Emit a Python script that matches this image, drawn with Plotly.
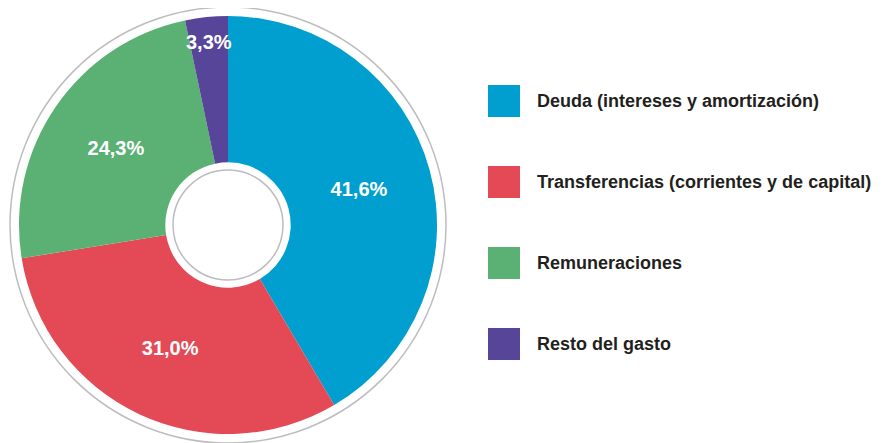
import math
import plotly.graph_objects as go

labels = ["Deuda (intereses y amortización)", "Transferencias (corrientes y de capital)",
          "Remuneraciones", "Resto del gasto"]
values = [41.6, 31.0, 24.3, 3.3]
value_text = ["41,6%", "31,0%", "24,3%", "3,3%"]
colors = ["#009FCF", "#E34A56", "#5AB173", "#574599"]

# page body adds an 8px offset; compensate
OFF = 8
W, H = 887, 443
cx, cy, r = 228 - OFF, 225 - OFF, 209

# the smallest slice's label is placed as an annotation so it keeps full size
small = [v < 5 for v in values]
pie_text = ["" if s else t for s, t in zip(small, value_text)]

fig = go.Figure(go.Pie(
    labels=labels, values=values, text=pie_text, textinfo="text",
    textposition="inside", insidetextorientation="horizontal",
    textfont=dict(family="Liberation Sans, Arial, sans-serif", size=20, color="white", weight="bold"),
    marker=dict(colors=colors, line=dict(width=0)),
    sort=False, direction="clockwise", rotation=0, hole=0.3,
    domain=dict(x=[(cx - r) / W, (cx + r) / W], y=[(H - cy - r) / H, (H - cy + r) / H]),
    showlegend=False, hoverinfo="label+text",
))

shapes = []
annotations = []

def circle(rad, color, width):
    return dict(type="circle", xref="paper", yref="paper",
                x0=(cx - rad) / W, x1=(cx + rad) / W,
                y0=(H - cy - rad) / H, y1=(H - cy + rad) / H,
                line=dict(color=color, width=width), layer="above")
shapes.append(circle(218, "#BDBDC0", 1.5))
shapes.append(circle(55, "#BDBDC0", 1.5))

total = sum(values)
cum = 0.0
for v, t, s in zip(values, value_text, small):
    mid = (cum + v / 2) / total * 2 * math.pi
    cum += v
    if s:
        rr = 0.88 * r
        x = cx + rr * math.sin(mid)
        y = cy - rr * math.cos(mid)
        annotations.append(dict(xref="paper", yref="paper", x=x / W, y=(H - y) / H,
                                xanchor="center", yanchor="middle", showarrow=False, text=t,
                                font=dict(family="Liberation Sans, Arial, sans-serif", size=20,
                                          color="white", weight="bold")))

y_first, step, sq = 101 - OFF, 81, 32
for i, (lab, col) in enumerate(zip(labels, colors)):
    yc = y_first + i * step
    shapes.append(dict(type="rect", xref="paper", yref="paper",
                       x0=(488 - OFF) / W, x1=(488 - OFF + sq) / W,
                       y0=(H - yc - sq / 2) / H, y1=(H - yc + sq / 2) / H,
                       fillcolor=col, line=dict(width=0)))
    annotations.append(dict(xref="paper", yref="paper", x=(535 - OFF) / W, y=(H - yc) / H,
                            xanchor="left", yanchor="middle", showarrow=False, text=lab,
                            font=dict(family="Liberation Sans, Arial, sans-serif", size=18,
                                      color="#231F20", weight="bold")))

fig.update_layout(width=W, height=H, margin=dict(l=0, r=0, t=0, b=0),
                  paper_bgcolor="white", plot_bgcolor="white",
                  shapes=shapes, annotations=annotations)
fig.write_html("out.html")
